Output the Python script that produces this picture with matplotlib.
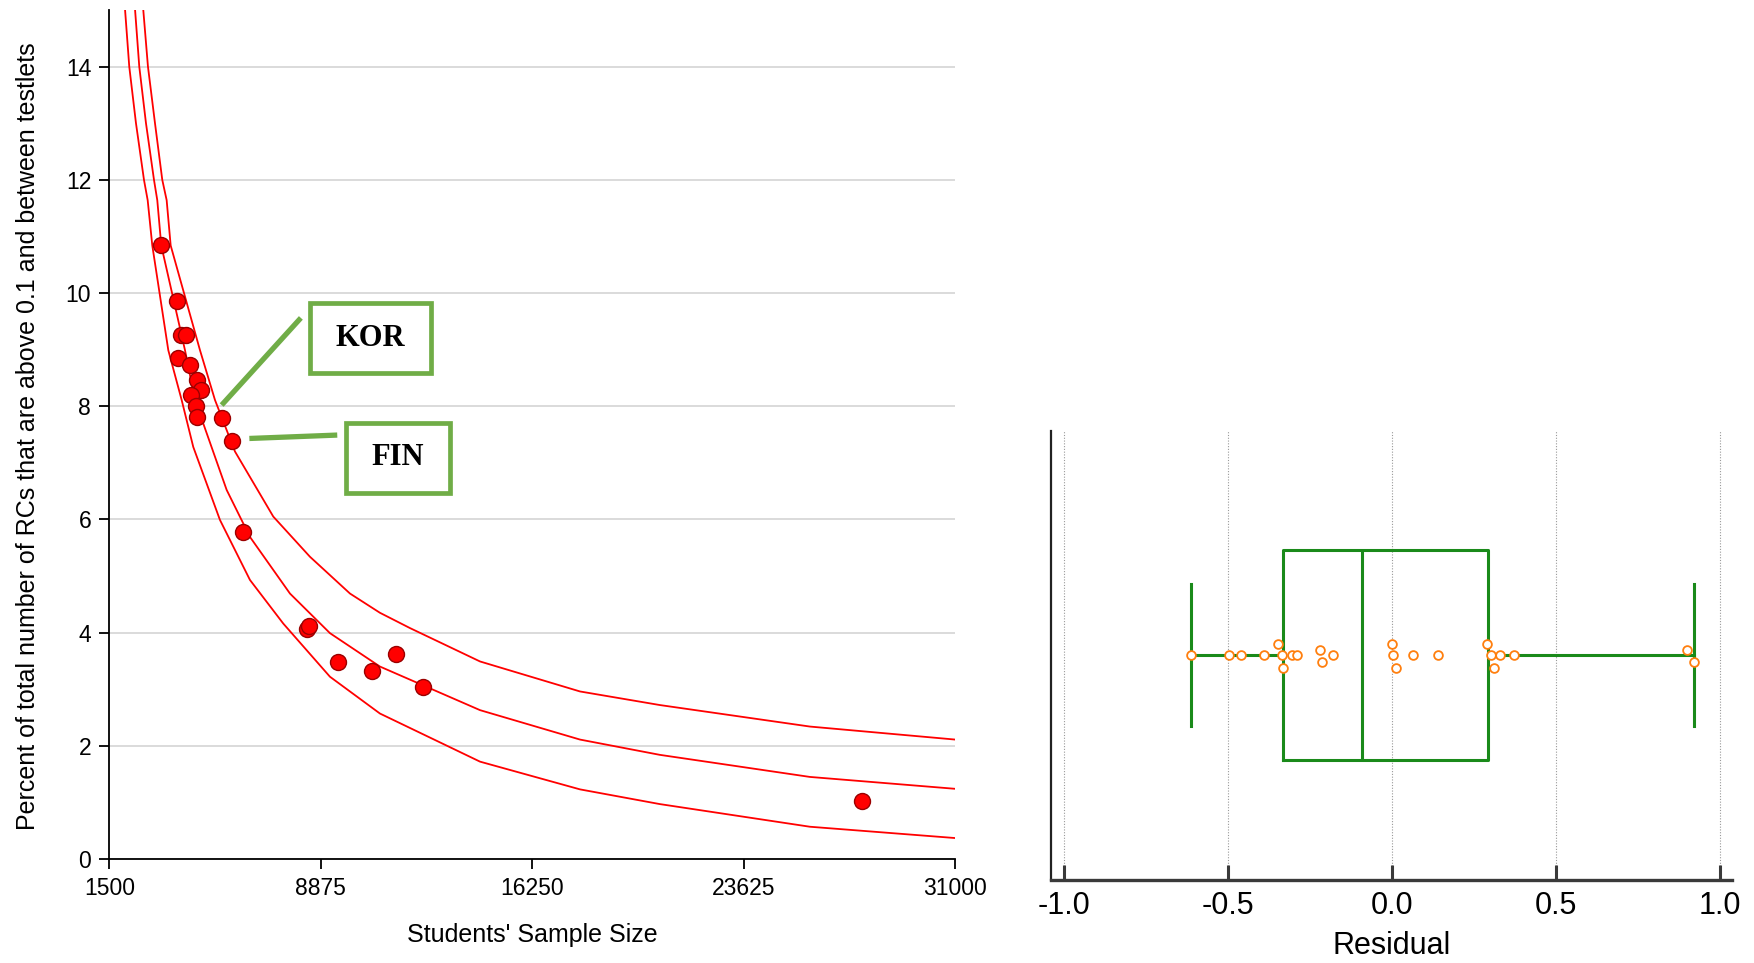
import matplotlib

matplotlib.use("Agg")
import matplotlib.pyplot as plt
from matplotlib.patches import Rectangle

plt.rcParams["font.family"] = ["Liberation Sans Narrow", "Liberation Sans", "DejaVu Sans"]

# --- left panel: countries (sample size, percent)
sample_size = [3313, 3850, 4011, 4175, 3896, 4314, 4548, 4687, 4349, 4523, 4548,
               5430, 5768, 6152, 8380, 8470, 9485, 10650, 11497, 12428, 27736]
percent = [10.84, 9.86, 9.26, 9.25, 8.86, 8.72, 8.46, 8.28, 8.19, 8.00, 7.81,
           7.79, 7.38, 5.77, 4.07, 4.12, 3.48, 3.33, 3.62, 3.04, 1.03]

# curves (sample size, percent)
lower_n = [2051, 2197, 2431, 2710, 2839, 3000, 3558, 4024, 4429, 5360, 6406, 7567,
           9196, 10939, 14429, 17916, 20700, 25932, 31000]
lower_v = [15.0, 14.0, 13.0, 12.0, 11.64, 10.84, 8.99, 8.11, 7.28, 5.99, 4.93, 4.16,
           3.22, 2.57, 1.72, 1.23, 0.97, 0.57, 0.37]
mid_n = [2400, 2546, 2780, 3059, 3174, 3313, 4140, 4489, 5594, 6406, 7801, 9196,
         10939, 14429, 17916, 20700, 25932, 31000]
mid_v = [15.0, 14.0, 13.0, 12.0, 11.64, 10.84, 8.99, 8.11, 6.52, 5.69, 4.69, 3.99,
         3.40, 2.63, 2.11, 1.84, 1.45, 1.24]
upper_n = [2686, 2849, 3094, 3348, 3501, 3641, 4663, 5186, 5883, 7219, 8498, 9894,
           10939, 11986, 14429, 17916, 20700, 25932, 31000]
upper_v = [15.0, 14.0, 13.0, 12.0, 11.64, 10.84, 8.99, 8.11, 7.20, 6.05, 5.34, 4.69,
           4.35, 4.08, 3.49, 2.96, 2.72, 2.34, 2.11]

x_ticks = [1500, 8875, 16250, 23625, 31000]
y_ticks = [0, 2, 4, 6, 8, 10, 12, 14]

# --- right panel: residuals and their vertical jitter
residuals = [-0.615, -0.499, -0.460, -0.391, -0.347, -0.336, -0.333, -0.305,
             -0.289, -0.219, -0.215, -0.181, -0.002, 0.002, 0.013, 0.064,
             0.139, 0.290, 0.300, 0.310, 0.329, 0.372, 0.900, 0.920]
jitter = [0, 0, 0, 0, 0.05, 0, -0.058, 0,
          0, 0.022, -0.028, 0, 0.05, 0, -0.058, 0,
          0, 0.05, 0, -0.058, 0, 0, 0.022, -0.028]
res_ticks = [-1.0, -0.5, 0.0, 0.5, 1.0]

GREEN_BOX = "#70ad47"
BOX_GREEN = "#1a8a1a"

fig = plt.figure(figsize=(17.54, 9.63), dpi=100)

# ---------------- left
ax = fig.add_axes([0.0623, 0.108, 0.4823, 0.8816])
ax.plot(lower_n, lower_v, color="red", lw=1.3, zorder=2)
ax.plot(mid_n, mid_v, color="red", lw=1.3, zorder=2)
ax.plot(upper_n, upper_v, color="red", lw=1.3, zorder=2)
ax.plot(sample_size, percent, "o", ms=11.5, mfc="red", mec="#9a0000", mew=1.0, zorder=3)

ax.set_xlim(1500, 31000)
ax.set_ylim(0, 15)
ax.set_xticks(x_ticks)
ax.set_yticks(y_ticks)
ax.yaxis.grid(True, color="#d4d4d4", lw=1.2)
ax.set_axisbelow(True)
for s in ["top", "right"]:
    ax.spines[s].set_visible(False)
for s in ["left", "bottom"]:
    ax.spines[s].set_linewidth(1.3)
ax.tick_params(labelsize=16.5, length=7, width=1.3, pad=6)
ax.set_xlabel("Students' Sample Size", fontsize=18)
ax.xaxis.set_label_coords(0.5, -0.075)
fig.text(28 / 1754, 0.547, "Percent of total number of RCs that are above 0.1 and between testlets",
         rotation=90, ha="center", va="center", fontsize=18)

# callouts
ax.plot([5419, 8181], [8.02, 9.56], color=GREEN_BOX, lw=3.8, solid_capstyle="butt", zorder=4)
ax.plot([6385, 9450], [7.43, 7.49], color=GREEN_BOX, lw=3.8, solid_capstyle="butt", zorder=4)
for (x0, x1, y0, y1, lab) in [(8495, 12707, 8.58, 9.82, "KOR"), (9740, 13370, 6.46, 7.71, "FIN")]:
    ax.add_patch(Rectangle((x0, y0), x1 - x0, y1 - y0, fc="white", ec=GREEN_BOX, lw=3.4, zorder=5))
    ax.text((x0 + x1) / 2, (y0 + y1) / 2, lab, ha="center", va="center", fontsize=22,
            fontweight="bold", family="Liberation Serif", zorder=6)

# ---------------- right
bx = fig.add_axes([0.5992, 0.0862, 0.3883, 0.4666])
bx.boxplot(residuals, orientation="horizontal", positions=[0], widths=0.936,
           capwidths=0.633, showfliers=False, whis=1.5,
           boxprops=dict(color=BOX_GREEN, lw=2.2),
           medianprops=dict(color=BOX_GREEN, lw=2.2),
           whiskerprops=dict(color=BOX_GREEN, lw=2.2),
           capprops=dict(color=BOX_GREEN, lw=2.2))
bx.plot(residuals, jitter, "o", ms=6.3, mfc="white", mec="#ff7f0e", mew=1.3, zorder=4)
bx.set_xlim(-1.041, 1.037)
bx.set_ylim(-1, 1)
bx.set_xticks(res_ticks)
bx.set_xticklabels([f"{t:.1f}" for t in res_ticks])
bx.set_yticks([])
bx.xaxis.grid(True, color="#9a9a9a", lw=0.8, ls=(0, (1, 1.5)))
bx.set_axisbelow(True)
for s in ["top", "right"]:
    bx.spines[s].set_visible(False)
bx.spines["left"].set_color("#222222")
bx.spines["left"].set_linewidth(1.6)
bx.spines["bottom"].set_color("#3a3a3a")
bx.spines["bottom"].set_linewidth(2.4)
bx.tick_params(axis="x", direction="in", length=11, width=2.2, color="#3a3a3a",
               labelsize=22, pad=8)
bx.set_xlabel("Residual", fontsize=22)
bx.xaxis.set_label_coords(0.5, -0.113)

fig.savefig("out.png", dpi=100)
